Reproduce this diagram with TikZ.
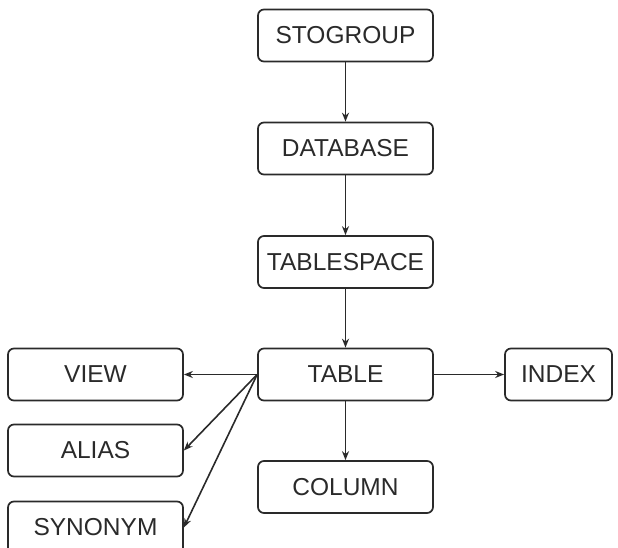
\documentclass[tikz,border=0pt]{standalone}
\usepackage{fontspec}
\setmainfont{Liberation Sans}
\usetikzlibrary{arrows.meta}
\definecolor{ink}{HTML}{2A2A2A}
\begin{document}
\begin{tikzpicture}[x=1pt,y=1pt,
  obj/.style={draw=ink, line width=1.7pt, rounded corners=6pt,
    minimum width=175pt, minimum height=52pt, inner sep=0pt,
    text=ink, font=\fontsize{24.5}{27}\selectfont},
  link/.style={draw=ink, line width=1.6pt, -{Stealth[length=9pt,width=7pt]}}]
  \useasboundingbox (0,0) rectangle (618,-548);
  % main chain
  \node[obj] (sto) at (345.5,-35.5) {STOGROUP};
  \node[obj] (db)  at (345.5,-148.5) {DATABASE};
  \node[obj] (ts)  at (345.5,-262) {TABLESPACE};
  \node[obj] (tab) at (345.5,-374.5) {TABLE};
  \node[obj] (col) at (345.5,-487) {COLUMN};
  % side objects
  \node[obj, minimum width=107pt] (idx) at (558.5,-374.5) {INDEX};
  \node[obj] (view) at (95.5,-374.5) {VIEW};
  \node[obj] (alias) at (95.5,-450.5) {ALIAS};
  \node[obj] (syn) at (95.5,-527.5) {SYNONYM};
  % connectors
  \draw[link] (sto) -- (db);
  \draw[link] (db) -- (ts);
  \draw[link] (ts) -- (tab);
  \draw[link] (tab) -- (col);
  \draw[link] (tab) -- (idx);
  \draw[link] (tab.west) -- (view.east);
  \draw[link] (tab.west) -- (alias.east);
  \draw[link] (tab.west) -- (syn.east);
\end{tikzpicture}
\end{document}
